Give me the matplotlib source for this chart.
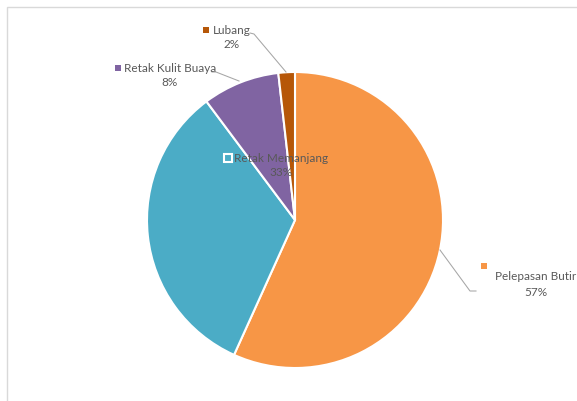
import matplotlib.pyplot as plt
from matplotlib.patches import Rectangle

# data (percent)
categories = ["Pelepasan Butir", "Retak Memanjang", "Retak Kulit Buaya", "Lubang"]
values = [56.7, 33.0, 8.4, 1.8]
colors = ["#F79646", "#4BACC6", "#8064A2", "#B65708"]

W, H = 577, 401
TXT = "#595959"
LINE = "#A6A6A6"

plt.rcParams['font.family'] = ['Lato', 'DejaVu Sans']

fig = plt.figure(figsize=(W / 100, H / 100), dpi=100)
ax = fig.add_axes([0, 0, 1, 1])

# chart frame (right and bottom run off the picture)
fig.patches.append(Rectangle((7 / W, -0.05), 1.05, (H - 7) / H + 0.05,
                             transform=fig.transFigure, fill=False,
                             edgecolor="#D9D9D9", linewidth=1.0))


def Y(py):
    # pixel row -> data y
    return H - py


ax.pie(values, colors=colors, startangle=90, counterclock=False,
       center=(295, Y(220)), radius=148,
       wedgeprops=dict(edgecolor="white", linewidth=1.5))

total = sum(values)
pct = [f"{v / total * 100:.0f}%" for v in values]

# label layout: (marker x, marker y, text centre x, name y, pct y)
lab_pos = {
    "Pelepasan Butir": (484, 266, 536, 277, 292),
    "Retak Memanjang": (228, 158, 281, 159, 173),
    "Retak Kulit Buaya": (118, 68, 170, 69, 83),
    "Lubang": (206, 30, 232, 31, 45),
}
leaders = {
    "Pelepasan Butir": [(440, 250), (470, 291), (476, 291)],
    "Retak Kulit Buaya": [(212, 72), (216, 72), (239, 81)],
    "Lubang": [(250, 33), (254, 34), (286, 72)],
}

for name, color, p in zip(categories, colors, pct):
    mx, my, tx, ny, py = lab_pos[name]
    if name == "Retak Memanjang":
        ax.plot(mx, Y(my), marker="s", markersize=6, markerfacecolor=color,
                markeredgecolor="white", markeredgewidth=1.5, zorder=5)
    else:
        ax.plot(mx, Y(my), marker="s", markersize=4.5, color=color,
                markeredgewidth=0, zorder=5)
    ax.text(tx, Y(ny), name, ha="center", va="center", fontsize=8.5, color=TXT, zorder=6)
    ax.text(tx, Y(py), p, ha="center", va="center", fontsize=8.5, color=TXT, zorder=6)

for name, pts in leaders.items():
    xs = [q[0] for q in pts]
    ys = [Y(q[1]) for q in pts]
    ax.plot(xs, ys, color=LINE, linewidth=0.75, zorder=4)

ax.set_xlim(0, W)
ax.set_ylim(0, H)
ax.set_aspect("auto")
ax.axis("off")

fig.savefig("out.png", dpi=100)
